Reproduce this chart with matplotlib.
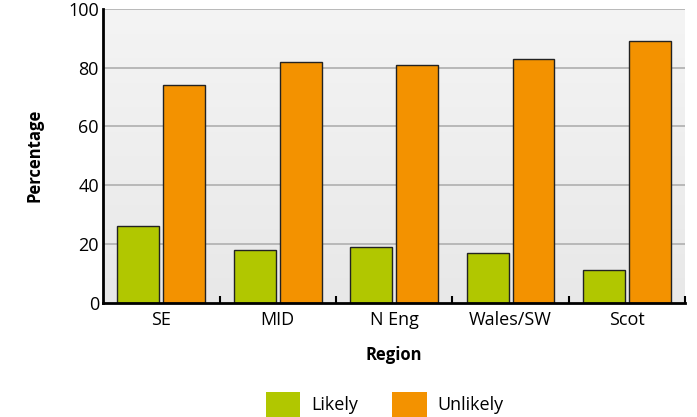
import numpy as np
import matplotlib.pyplot as plt
from matplotlib.patches import Patch
from matplotlib.colors import LinearSegmentedColormap

plt.rcParams['font.family'] = ['Open Sans', 'DejaVu Sans']

# Data
regions = ["SE", "MID", "N Eng", "Wales/SW", "Scot"]
likely = [26, 18, 19, 17, 11]
unlikely = [74, 82, 81, 83, 89]

green = "#b1c700"
orange = "#f39200"

fig = plt.figure(figsize=(6.97, 4.17), dpi=100)
ax = fig.add_axes([0.148, 0.274, 0.835, 0.705])

x = np.arange(len(regions))
w = 0.36
gap = 0.035

# Gradient background (lighter at the top)
grad = np.linspace(0, 1, 256).reshape(-1, 1)
bg = LinearSegmentedColormap.from_list("bg", ["#f4f4f4", "#e8e8e8"])
ax.imshow(grad, cmap=bg, extent=[-0.5, len(regions) - 0.5, 0, 100], aspect="auto", zorder=0)

for yv in [20, 40, 60, 80, 100]:
    ax.axhline(yv, color="#b4b4b4", lw=1.3, zorder=1)

ax.bar(x - w / 2 - gap / 2, likely, width=w, color=green, edgecolor="#222222", lw=1.0, zorder=3)
ax.bar(x + w / 2 + gap / 2, unlikely, width=w, color=orange, edgecolor="#222222", lw=1.0, zorder=3)

ax.set_xlim(-0.5, len(regions) - 0.5)
ax.set_ylim(0, 100)
ax.set_yticks([0, 20, 40, 60, 80, 100])
ax.set_xticks(x)
ax.set_xticklabels(regions)
ax.set_xticks(np.arange(len(regions)) + 0.5, minor=True)
ax.tick_params(axis="x", which="major", length=0, labelsize=13, pad=6)
ax.tick_params(axis="x", which="minor", direction="in", length=5, width=1.5, color="black")
ax.tick_params(axis="y", length=0, labelsize=13, pad=3)

for s in ["top", "right"]:
    ax.spines[s].set_visible(False)
ax.spines["left"].set_linewidth(2)
ax.spines["bottom"].set_linewidth(2)
ax.spines["bottom"].set_zorder(4)

ax.set_xlabel("Region", fontsize=12, fontweight="bold", labelpad=12)
ax.set_ylabel("Percentage", fontsize=12, fontweight="bold", labelpad=18)

handles = [Patch(facecolor=green, edgecolor="none", label="Likely"),
           Patch(facecolor=orange, edgecolor="none", label="Unlikely")]
fig.legend(handles=handles, loc="center", bbox_to_anchor=(0.552, 0.03), ncol=2, frameon=False,
           fontsize=13, handlelength=1.9, handleheight=1.75, handletextpad=0.6, columnspacing=1.9)

plt.savefig("out.png", dpi=100)
